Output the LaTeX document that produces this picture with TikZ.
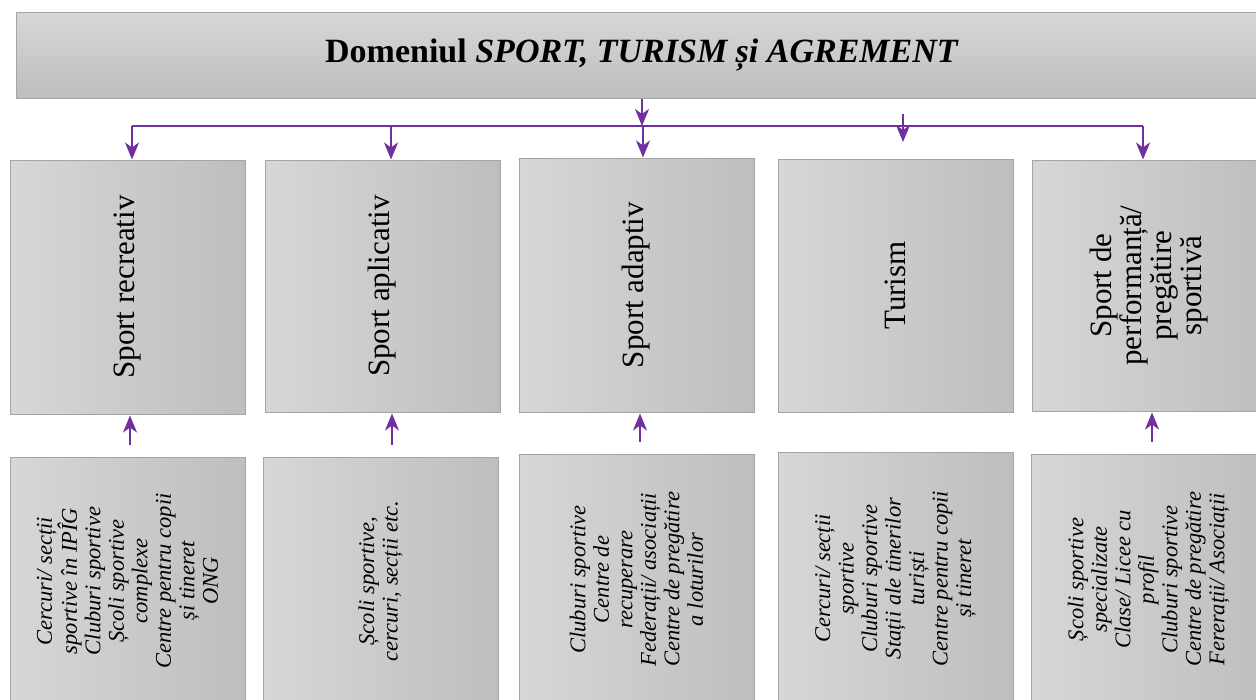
\documentclass[tikz,border=0pt]{standalone}
\usepackage{fontspec}
\setmainfont{Liberation Serif}
\usepackage{tikz}
\usetikzlibrary{arrows.meta,calc}
\definecolor{boxlight}{RGB}{215,215,215}
\definecolor{boxdark}{RGB}{190,190,190}
\definecolor{boxline}{RGB}{165,165,165}
\definecolor{linkpurple}{RGB}{112,48,160}
\newcommand{\headtext}{\fontsize{34pt}{36pt}\selectfont\bfseries}
\newcommand{\midtext}{\fontsize{31pt}{30pt}\selectfont}
\newcommand{\lowtext}{\fontsize{22.5pt}{23.5pt}\selectfont\itshape}

\begin{document}
\begin{tikzpicture}[x=1pt,y=1pt,
  vbox/.style={rotate=90,draw=boxline,line width=1pt,left color=boxlight,right color=boxdark,inner sep=0pt,align=center},
  link/.style={linkpurple,line width=2pt,-{Stealth[length=17pt,width=14pt,inset=5pt]}}]
\useasboundingbox (0,0) rectangle (1256,-699);
\clip (0,0) rectangle (1256,-699);

% the title box
\node[draw=boxline,line width=1pt,top color=boxlight,bottom color=boxdark,
  minimum width=1252pt,minimum height=86pt,font=\headtext] (dom) at (642,-55)
  {Domeniul \textit{SPORT, TURISM și AGREMENT}};

% the five fields
\node[vbox,minimum width=254pt,minimum height=235pt,font=\midtext] (b1) at (127.5,-287) {Sport recreativ};
\node[vbox,minimum width=252pt,minimum height=235pt,font=\midtext] (b2) at (382.5,-286) {Sport aplicativ};
\node[vbox,minimum width=254pt,minimum height=235pt,font=\midtext] (b3) at (636.5,-285) {Sport adaptiv};
\node[vbox,minimum width=253pt,minimum height=235pt,font=\midtext] (b4) at (895.5,-285.5) {Turism};
\node[vbox,minimum width=251pt,minimum height=235pt,font=\midtext] (b5) at (1149.5,-285.5)
  {Sport de\\performanță/\\pregătire\\sportivă};

% the institutions below each field
\node[vbox,minimum width=248pt,minimum height=235pt,font=\lowtext] (c1) at (127.5,-581)
  {Cercuri/ secții\\sportive în IPÎG\\Cluburi sportive\\Școli sportive\\complexe\\Centre pentru copii\\și tineret\\ONG};
\node[vbox,minimum width=248pt,minimum height=235pt,font=\lowtext] (c2) at (380.5,-581)
  {Școli sportive,\\cercuri, secții etc.};
\node[vbox,minimum width=251pt,minimum height=235pt,font=\lowtext] (c3) at (636.5,-579.5)
  {Cluburi sportive\\Centre de\\recuperare\\Federații/ asociații\\Centre de pregătire\\a loturilor};
\node[vbox,minimum width=253pt,minimum height=235pt,font=\lowtext] (c4) at (895.5,-578.5)
  {Cercuri/ secții\\sportive\\Cluburi sportive\\Stații ale tinerilor\\turiști\\Centre pentru copii\\și tineret};
\node[vbox,minimum width=251pt,minimum height=235pt,font=\lowtext] (c5) at (1148.5,-579.5)
  {Școli sportive\\specializate\\Clase/ Licee cu\\profil\\Cluburi sportive\\Centre de pregătire\\Fererații/ Asociații};

% the bar under the title
\coordinate (bar l) at (132,-126);
\coordinate (bar r) at (1143,-126);
\draw[link] (dom.south) -- (dom.south |- bar l);
\draw[linkpurple,line width=2pt] (bar l) -- (bar r);
% arrows down to the fields
\foreach \n/\xa in {1/132,2/391,3/643,5/1143}
  \draw[link] (\xa,-126) -- (\xa,0 |- b\n.east);
\coordinate (t4) at (903,-114);
\draw[link] (t4) -- ++(0,-28);
% arrows up from the institutions
\foreach \n/\xa in {1/130,2/392,3/640,5/1152}
  \draw[link,shorten <=12pt,shorten >=1pt] (\xa,0 |- c\n.east) -- (\xa,0 |- b\n.west);
\end{tikzpicture}
\end{document}
